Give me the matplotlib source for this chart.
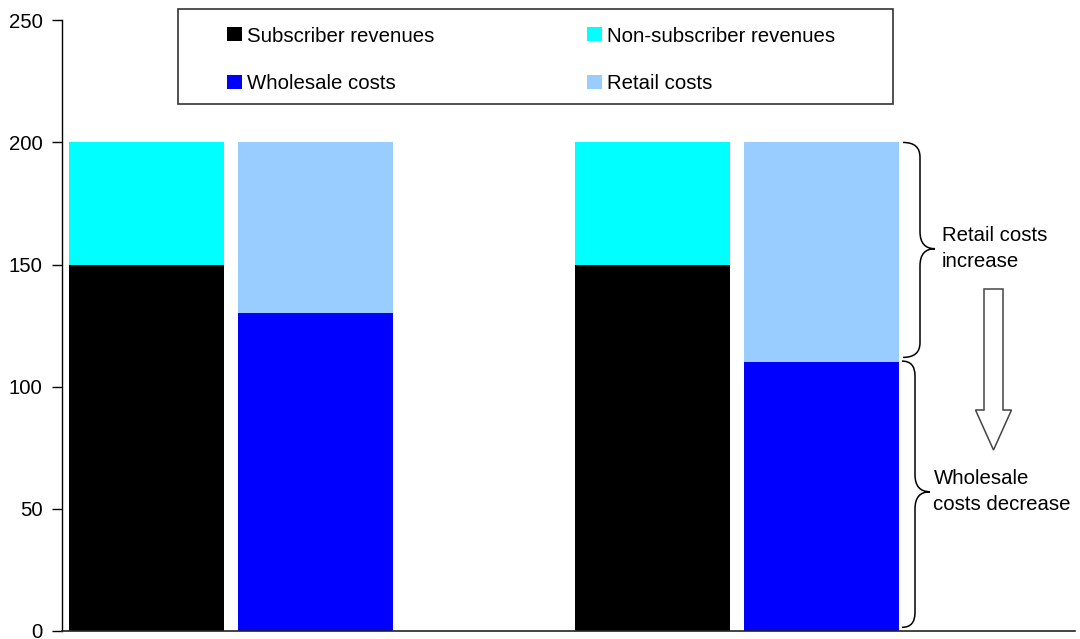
import matplotlib
matplotlib.use("Agg")
import matplotlib.pyplot as plt
import matplotlib.patches as mpatches
from matplotlib.path import Path
from matplotlib.transforms import IdentityTransform, Affine2D, blended_transform_factory

plt.rcParams['font.family'] = ['Liberation Sans', 'DejaVu Sans']

# ---- data ----
groups = [0, 1]                      # two scenarios (no x labels)
subscriber_revenues = [150, 150]
non_subscriber_revenues = [50, 50]
wholesale_costs = [130, 110]
retail_costs = [70, 90]
series_labels = ["Subscriber revenues", "Non-subscriber revenues",
                 "Wholesale costs", "Retail costs"]
series_colors = ["#000000", "#00FFFF", "#0000FF", "#99CCFF"]
yticks = [0, 50, 100, 150, 200, 250]
annot_top = ["Retail costs", "increase"]
annot_bottom = ["Wholesale", "costs decrease"]

W, H = 1080, 639
fig = plt.figure(figsize=(W / 100, H / 100), dpi=100)
ax = fig.add_axes([62 / W, (H - 631) / H, 1013 / W, (631 - 20.3) / H])

bw = 0.3063
off = 0.167
rev_x = [g - off for g in groups]
cost_x = [g + off for g in groups]

ax.bar(rev_x, subscriber_revenues, width=bw, color=series_colors[0], linewidth=0)
ax.bar(rev_x, non_subscriber_revenues, width=bw, bottom=subscriber_revenues,
       color=series_colors[1], linewidth=0)
ax.bar(cost_x, wholesale_costs, width=bw, color=series_colors[2], linewidth=0)
ax.bar(cost_x, retail_costs, width=bw, bottom=wholesale_costs,
       color=series_colors[3], linewidth=0)

ax.set_xlim(-0.3344, 1.6676)
ax.set_ylim(0, 250)
ax.set_yticks(yticks)
ax.set_xticks([])
ax.tick_params(axis='y', direction='out', length=7, width=1, pad=7,
               labelsize=14.7, colors='black')
for s in ['top', 'right']:
    ax.spines[s].set_visible(False)
ax.spines['left'].set_color('black')
ax.spines['bottom'].set_color('#222222')
ax.spines['left'].set_linewidth(1)
ax.spines['bottom'].set_linewidth(1.2)

# pixel transform (origin top-left, y down)
pix = Affine2D().scale(1, -1).translate(0, H)

# ---- legend (manual, to match layout) ----
frame = mpatches.Rectangle((178, 9), 893 - 178, 104 - 9, transform=pix,
                           fill=False, edgecolor='#333333', linewidth=1.2)
fig.add_artist(frame)
leg_pos = [(227, 34), (587, 34), (227, 81.5), (587, 81.5)]
for (lx, ly), lab, col in zip(leg_pos, series_labels, series_colors):
    sq = mpatches.Rectangle((lx, ly - 7), 15, 14, transform=pix,
                            facecolor=col, edgecolor='none')
    fig.add_artist(sq)
    fig.text(lx + 20, ly + 7.5, lab, transform=pix, fontsize=14.7,
             va='baseline', ha='left', color='black')


# ---- braces (x in pixels, y in data) ----
def brace(x_end, x_spine, x_tip, y_top, y_bot, y_mid, r_end=5.0, r_mid=5.0):
    verts = [
        (x_end, y_top),
        (x_spine, y_top), (x_spine, y_top - r_end),
        (x_spine, y_mid + r_mid),
        (x_spine, y_mid), (x_tip, y_mid),
        (x_spine, y_mid), (x_spine, y_mid - r_mid),
        (x_spine, y_bot + r_end),
        (x_spine, y_bot), (x_end, y_bot),
    ]
    codes = [Path.MOVETO,
             Path.CURVE3, Path.CURVE3,
             Path.LINETO,
             Path.CURVE3, Path.CURVE3,
             Path.CURVE3, Path.CURVE3,
             Path.LINETO,
             Path.CURVE3, Path.CURVE3]
    trans = blended_transform_factory(IdentityTransform(), ax.transData)
    p = mpatches.PathPatch(Path(verts, codes), transform=trans, fill=False,
                           edgecolor='black', linewidth=1.1, clip_on=False)
    ax.add_patch(p)


brace(903, 920, 935, 200, 112, 156.5, r_end=6, r_mid=7)
brace(902, 915, 930, 110.5, 1.5, 57, r_end=6, r_mid=7)

# ---- annotation texts ----
fig.text(942, 240.7, annot_top[0], transform=pix, fontsize=14.7, va='baseline')
fig.text(942, 266.7, annot_top[1], transform=pix, fontsize=14.7, va='baseline')
fig.text(934, 484, annot_bottom[0], transform=pix, fontsize=14.7, va='baseline')
fig.text(933, 510, annot_bottom[1], transform=pix, fontsize=14.7, va='baseline')

# ---- block arrow ----
arr = mpatches.FancyArrow(993.5, H - 289, 0, -(450 - 289), width=19,
                          head_width=36, head_length=40,
                          length_includes_head=True, transform=IdentityTransform(),
                          facecolor='white', edgecolor='#444444', linewidth=1.1)
fig.add_artist(arr)

fig.savefig("out.png", dpi=100)
